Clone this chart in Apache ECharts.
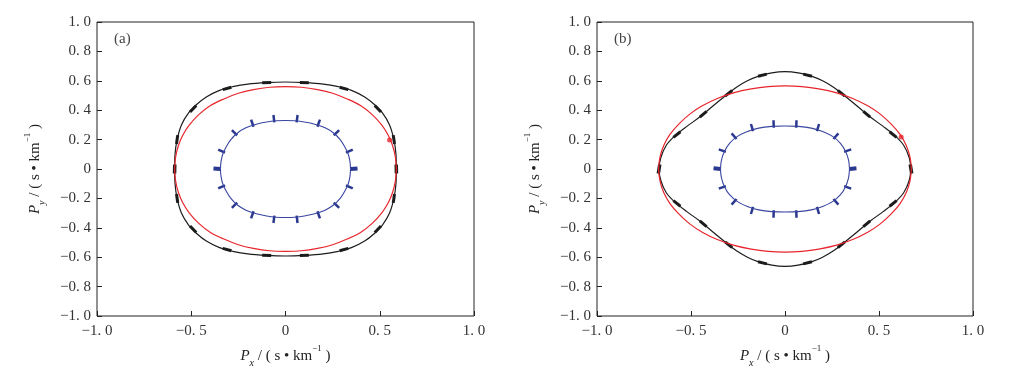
<!DOCTYPE html>
<html>
<head>
<meta charset="utf-8">
<script src="https://cdn.jsdelivr.net/npm/echarts@6/dist/echarts.min.js"></script>
<style>
  html, body { margin: 0; background: #fff; }
  #chart { width: 1014px; height: 376px; }
</style>
</head>
<body>
<div id="chart"></div>
<script>
// first-quadrant points, from the Px axis round to the Py axis
const blackA = [[0.588, 0], [0.586, 0.10], [0.575, 0.20], [0.552, 0.30], [0.515, 0.38], [0.47, 0.44],
  [0.42, 0.49], [0.35, 0.535], [0.28, 0.56], [0.20, 0.578], [0.10, 0.588], [0, 0.592]];
const redA = [[0.588, 0], [0.583, 0.08], [0.568, 0.16], [0.545, 0.23], [0.51, 0.30], [0.46, 0.37],
  [0.40, 0.43], [0.33, 0.475], [0.25, 0.515], [0.17, 0.54], [0.085, 0.556], [0, 0.56]];
const blueA = [[0.345, 0], [0.342, 0.05], [0.333, 0.10], [0.315, 0.15], [0.29, 0.20], [0.255, 0.245],
  [0.21, 0.28], [0.155, 0.305], [0.10, 0.32], [0.05, 0.328], [0, 0.33]];

const blackB = [[0.67, 0], [0.66, 0.08], [0.632, 0.16], [0.59, 0.22], [0.522, 0.29], [0.452, 0.355],
  [0.385, 0.427], [0.315, 0.50], [0.26, 0.555], [0.20, 0.60], [0.14, 0.632], [0.07, 0.654], [0, 0.662]];
const redB = [[0.672, 0], [0.665, 0.08], [0.645, 0.16], [0.612, 0.235], [0.565, 0.305], [0.505, 0.375],
  [0.44, 0.43], [0.36, 0.48], [0.27, 0.52], [0.18, 0.545], [0.09, 0.56], [0, 0.565]];
const blueB = [[0.343, 0], [0.338, 0.06], [0.322, 0.12], [0.295, 0.175], [0.255, 0.22], [0.20, 0.255],
  [0.14, 0.278], [0.07, 0.29], [0, 0.293]];

// marker positions on the curves (first quadrant, mirrored to the others)
const blackMarksA = [[0.588, 0], [0.575, 0.20], [0.49, 0.41], [0.31, 0.548], [0.10, 0.588]];
const blueMarksA = [[0.345, 0], [0.328, 0.115], [0.262, 0.236], [0.172, 0.297], [0.06, 0.327]];
const blackMarksB = [[0.67, 0], [0.575, 0.234], [0.435, 0.372], [0.30, 0.515], [0.12, 0.638]];
const blueMarksB = [[0.343, 0], [0.322, 0.12], [0.263, 0.212], [0.172, 0.267], [0.06, 0.291]];

const redDotA = [[0.552, 0.197]];
const redDotB = [[0.618, 0.217]];

const panelLabels = ["(a)", "(b)"];
const xTickLabels = ["\u22121. 0", "\u22120. 5", "0", "0. 5", "1. 0"];
const yTickLabels = ["\u22121. 0", "\u22120. 8", "\u22120. 6", "\u22120. 4", "\u22120. 2", "0",
  "0. 2", "0. 4", "0. 6", "0. 8", "1. 0"];

const COLORS = { black: "#1c1c1c", red: "#e8252c", blue: "#3946a0", blueMark: "#2b3890" };
const FONT = "Liberation Serif";

function closeLoop(q) {
  const q2 = q.slice().reverse().slice(1).map(([x, y]) => [-x, y]);
  const q3 = q.slice(1).map(([x, y]) => [-x, -y]);
  const q4 = q.slice().reverse().slice(1).map(([x, y]) => [x, -y]);
  return q.concat(q2, q3, q4);
}

function mirrorMarks(q) {
  const seen = new Set();
  const out = [];
  q.forEach(([x, y]) => {
    [[x, y], [-x, y], [-x, -y], [x, -y]].forEach((p) => {
      const key = p.join(",");
      if (!seen.has(key)) {
        seen.add(key);
        out.push(p);
      }
    });
  });
  return out;
}

function markRenderer(loop, kind) {
  return function (params, api) {
    const p = api.coord([api.value(0), api.value(1)]);
    const c = api.coord([0, 0]);
    const pts = loop.map((d) => api.coord(d));
    let best = Infinity;
    let tx = 0;
    let ty = 1;
    for (let i = 0; i < pts.length - 1; i++) {
      const mx = (pts[i][0] + pts[i + 1][0]) / 2;
      const my = (pts[i][1] + pts[i + 1][1]) / 2;
      const d = (mx - p[0]) ** 2 + (my - p[1]) ** 2;
      if (d < best) {
        best = d;
        tx = pts[i + 1][0] - pts[i][0];
        ty = pts[i + 1][1] - pts[i][1];
      }
    }
    const len = Math.hypot(tx, ty) || 1;
    tx /= len;
    ty /= len;
    let nx = -ty;
    let ny = tx;
    if (nx * (p[0] - c[0]) + ny * (p[1] - c[1]) < 0) {
      nx = -nx;
      ny = -ny;
    }
    const onAxis = api.value(1) === 0;
    let shape;
    let style;
    if (kind === "normal") {
      const outLen = onAxis ? 7 : 6;
      const inLen = onAxis ? 0 : 1.5;
      shape = { x1: p[0] - nx * inLen, y1: p[1] - ny * inLen, x2: p[0] + nx * outLen, y2: p[1] + ny * outLen };
      style = { stroke: COLORS.blueMark, lineWidth: onAxis ? 4 : 2.5 };
    } else {
      const half = 4.5;
      shape = { x1: p[0] - tx * half, y1: p[1] - ty * half, x2: p[0] + tx * half, y2: p[1] + ty * half };
      style = { stroke: COLORS.black, lineWidth: onAxis ? 3.5 : 3 };
    }
    return { type: "line", shape, style };
  };
}

const nameRich = {
  i: { fontFamily: FONT, fontStyle: "italic", fontSize: 15, color: "#222", lineHeight: 24, verticalAlign: "middle" },
  s: { fontFamily: FONT, fontStyle: "italic", fontSize: 10, color: "#222", lineHeight: 10, verticalAlign: "bottom" },
  n: { fontFamily: FONT, fontSize: 15, color: "#222", lineHeight: 24, verticalAlign: "middle" },
  p: { fontFamily: FONT, fontSize: 9, color: "#222", lineHeight: 12, verticalAlign: "top" },
};

function xAxisFor(gridIndex) {
  return {
    gridIndex,
    type: "value",
    min: -1,
    max: 1,
    interval: 0.5,
    name: "{i|P}{s|x}{n| / ( s \u2022 km}{p|\u22121}{n| )}",
    nameLocation: "middle",
    nameGap: 26,
    nameTextStyle: { rich: nameRich },
    axisLine: { show: false, onZero: false },
    axisTick: { inside: true, length: 5, lineStyle: { color: "#222" } },
    axisLabel: {
      margin: 8,
      fontFamily: FONT,
      fontSize: 15,
      color: "#333",
      formatter: (v) => xTickLabels[Math.round((v + 1) / 0.5)],
    },
    splitLine: { show: false },
  };
}

function yAxisFor(gridIndex) {
  return {
    gridIndex,
    type: "value",
    min: -1,
    max: 1,
    interval: 0.2,
    name: "{i|P}{s|y}{n| / ( s \u2022 km}{p|\u22121}{n| )}",
    nameLocation: "middle",
    nameRotate: 90,
    nameGap: 50,
    nameTextStyle: { rich: nameRich },
    axisLine: { show: false, onZero: false },
    axisTick: { inside: true, length: 5, lineStyle: { color: "#222" } },
    axisLabel: {
      margin: 6,
      fontFamily: FONT,
      fontSize: 15,
      color: "#333",
      formatter: (v) => yTickLabels[Math.round((v + 1) / 0.2)],
    },
    splitLine: { show: false },
  };
}

function panelSeries(idx, black, red, blue, blackMarks, blueMarks, redDot) {
  const axes = { xAxisIndex: idx, yAxisIndex: idx };
  const blackLoop = closeLoop(black);
  const redLoop = closeLoop(red);
  const blueLoop = closeLoop(blue);
  const lineOf = (data, color, width) => ({
    type: "line",
    ...axes,
    data,
    smooth: 0.35,
    showSymbol: false,
    lineStyle: { color, width },
    silent: true,
  });
  return [
    lineOf(blackLoop, COLORS.black, 1.2),
    lineOf(redLoop, COLORS.red, 1.2),
    lineOf(blueLoop, COLORS.blue, 1.1),
    {
      type: "custom",
      ...axes,
      data: mirrorMarks(blackMarks),
      encode: { x: 0, y: 1 },
      renderItem: markRenderer(blackLoop, "tangent"),
      silent: true,
    },
    {
      type: "custom",
      ...axes,
      data: mirrorMarks(blueMarks),
      encode: { x: 0, y: 1 },
      renderItem: markRenderer(blueLoop, "normal"),
      silent: true,
    },
    {
      type: "scatter",
      ...axes,
      data: redDot,
      symbol: "circle",
      symbolSize: 5,
      itemStyle: { color: COLORS.red },
      silent: true,
    },
  ];
}

const chart = echarts.init(document.getElementById("chart"), null, { renderer: "canvas" });
chart.setOption({
  animation: false,
  backgroundColor: "#fff",
  grid: [
    { left: 97, top: 22, width: 377, height: 294, show: true, borderColor: "#222", borderWidth: 1 },
    { left: 597, top: 22, width: 376, height: 294, show: true, borderColor: "#222", borderWidth: 1 },
  ],
  xAxis: [xAxisFor(0), xAxisFor(1)],
  yAxis: [yAxisFor(0), yAxisFor(1)],
  graphic: [
    { type: "text", left: 114, top: 32, style: { text: panelLabels[0], fontFamily: FONT, fontSize: 15, fill: "#444" } },
    { type: "text", left: 614, top: 32, style: { text: panelLabels[1], fontFamily: FONT, fontSize: 15, fill: "#444" } },
  ],
  series: [
    ...panelSeries(0, blackA, redA, blueA, blackMarksA, blueMarksA, redDotA),
    ...panelSeries(1, blackB, redB, blueB, blackMarksB, blueMarksB, redDotB),
  ],
});
</script>
</body>
</html>
